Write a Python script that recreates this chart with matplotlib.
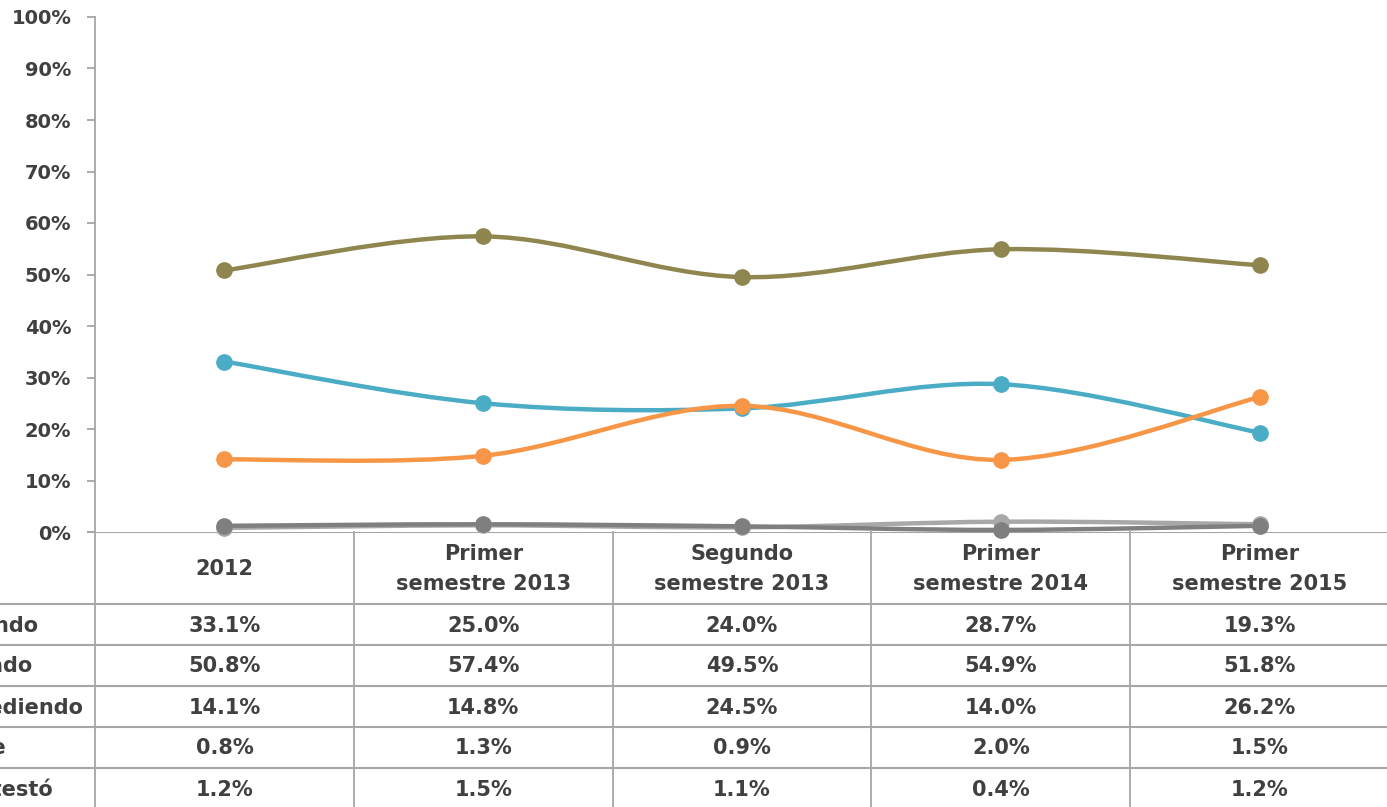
import matplotlib
matplotlib.use("Agg")
import matplotlib.pyplot as plt
import matplotlib.transforms as mtransforms
from matplotlib.path import Path
from matplotlib.patches import PathPatch
import numpy as np

# Data
categories = ["2012", "Primer\nsemestre 2013", "Segundo\nsemestre 2013",
              "Primer\nsemestre 2014", "Primer\nsemestre 2015"]
series_names = ["Avanzando", "Estancado", "Retrocediendo", "No sabe", "No contestó"]
avanzando = [33.1, 25.0, 24.0, 28.7, 19.3]
estancado = [50.8, 57.4, 49.5, 54.9, 51.8]
retrocediendo = [14.1, 14.8, 24.5, 14.0, 26.2]
no_sabe = [0.8, 1.3, 0.9, 2.0, 1.5]
no_contesto = [1.2, 1.5, 1.1, 0.4, 1.2]
series = [avanzando, estancado, retrocediendo, no_sabe, no_contesto]
colors = ["#4BACC6", "#8F864F", "#F79646", "#A8A8A8", "#7F7F7F"]
y_ticks = list(range(0, 101, 10))

W, H = 1387, 807
txt = "#404040"
grid_c = "#A6A6A6"
plt.rcParams['font.family'] = ['DejaVu Sans']

fig = plt.figure(figsize=(W / 100, H / 100), dpi=100)
# plot area in pixel units
left, right, top, bottom = 95, 1389, 17, 532
ax = fig.add_axes([left / W, 1 - bottom / H, (right - left) / W, (bottom - top) / H])
n = len(categories)
ax.set_xlim(-0.5, n - 0.5)
ax.set_ylim(0, 100)


def smooth_path(xs, ys):
    # Excel-like smoothed line: Catmull-Rom as cubic Bezier
    p = np.column_stack([xs, ys]).astype(float)
    ext = np.vstack([p[0], p, p[-1]])
    verts = [tuple(p[0])]
    codes = [Path.MOVETO]
    for i in range(len(p) - 1):
        p0, p1, p2, p3 = ext[i], ext[i + 1], ext[i + 2], ext[i + 3]
        c1 = p1 + (p2 - p0) / 6
        c2 = p2 - (p3 - p1) / 6
        verts += [tuple(c1), tuple(c2), tuple(p2)]
        codes += [Path.CURVE4] * 3
    return Path(verts, codes)


x = np.arange(n)
for vals, col in zip(series, colors):
    patch = PathPatch(smooth_path(x, vals), facecolor="none", edgecolor=col,
                      lw=3.2, capstyle="round", zorder=3, clip_on=False)
    ax.add_patch(patch)
    ax.plot(x, vals, "o", color=col, ms=11, zorder=4, clip_on=False)

for s in ["top", "right", "bottom"]:
    ax.spines[s].set_visible(False)
ax.spines["left"].set_color(grid_c)
ax.spines["left"].set_linewidth(1.3)
ax.set_xticks([])
ax.set_yticks(y_ticks)
ax.set_yticklabels([f"{t}%" for t in y_ticks], fontsize=14, fontweight="bold", color=txt)
ax.tick_params(axis="y", length=6, width=1.3, color=grid_c, pad=11)

# data table below the plot
tab = fig.add_axes([0, 0, 1, 1], zorder=-1)
tab.set_xlim(0, W)
tab.set_ylim(H, 0)
tab.axis("off")
tab.patch.set_alpha(0)
tr = mtransforms.blended_transform_factory(ax.transData, tab.transData)

header_bottom = 604
row_h = 41
# x axis line / table top
tab.plot([88, W], [bottom, bottom], color=grid_c, lw=1.5)
for k in range(len(series) + 1):
    yy = header_bottom + k * row_h
    tab.plot([0, W], [yy, yy], color=grid_c, lw=1.5)
for i in range(n + 1):
    fig.add_artist(plt.Line2D([i - 0.5, i - 0.5], [bottom, H + 5], color=grid_c,
                              lw=1.3, transform=tr))

for i, cat in enumerate(categories):
    fig.text(i, (bottom + header_bottom) / 2 + 1, cat, transform=tr, ha="center",
             va="center", fontsize=15, fontweight="bold", color=txt, linespacing=1.6)

for k, (name, vals) in enumerate(zip(series_names, series)):
    yc = header_bottom + k * row_h + row_h / 2 + 1
    # row labels run past the left edge, as in the cropped original
    fig.text(-89, yc, name, transform=tab.transData, ha="left", va="center",
             fontsize=15, fontweight="bold", color=txt)
    for i, v in enumerate(vals):
        fig.text(i, yc, f"{v:.1f}%", transform=tr, ha="center", va="center",
                 fontsize=15, fontweight="bold", color=txt)

fig.savefig("out.png", dpi=100)
